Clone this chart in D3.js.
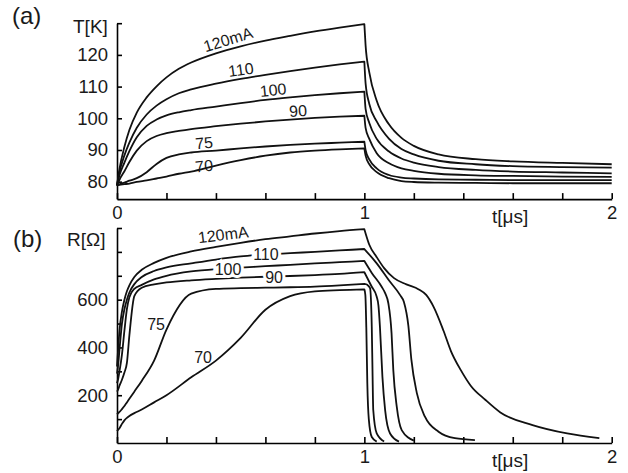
<!DOCTYPE html>
<html>
<head>
<meta charset="utf-8">
<script src="https://cdn.jsdelivr.net/npm/d3@7"></script>
<style>
body { margin: 0; background: #fff; }
svg { display: block; font-family: "Liberation Sans", Arial, sans-serif; }
</style>
</head>
<body>
<svg width="628" height="473"></svg>
<script>
// bias currents, top to bottom in both panels
let currents = ["120mA", "110", "100", "90", "75", "70"];

// (a) temperature T[K] during the pulse (0..1 us) and after it (1..2 us)
let tempRiseTimes = [0, 0.01, 0.03, 0.05, 0.08, 0.12, 0.16, 0.2, 0.25, 0.3, 0.4, 0.5, 0.6, 0.7, 0.8, 0.9, 1.0];
let tempRise = [
    [78.8, 84, 91, 96.3, 101.8, 106.6, 110.1, 112.9, 115.6, 117.6, 120.5, 122.7, 124.5, 126, 127.4, 128.6, 129.7],
    [78.8, 83, 88.3, 92.3, 97, 101.2, 104, 106, 107.9, 109.1, 110.9, 112.4, 113.7, 114.9, 116, 117, 117.9],
    [78.8, 82, 86, 89.6, 94, 97.6, 99.6, 100.9, 101.9, 102.6, 103.7, 104.8, 105.8, 106.6, 107.3, 107.9, 108.4],
    [78.8, 80.6, 83.3, 86.2, 89.8, 92.8, 94.4, 95.3, 96, 96.6, 97.5, 98.3, 99, 99.6, 100.1, 100.5, 100.8],
    [78.8, 79.2, 79.7, 80.3, 81.1, 83, 85.6, 87.5, 88.6, 89.2, 89.8, 90.5, 91.1, 91.6, 92, 92.3, 92.6],
    [78.8, 79, 79.2, 79.4, 79.9, 80.4, 81, 81.6, 82.5, 83.2, 85.1, 86.8, 88.2, 89.2, 89.8, 90.2, 90.5],
];
let tempFallTimes = [1, 1.005, 1.02, 1.05, 1.1, 1.15, 1.2, 1.3, 1.45, 1.6, 1.8, 2.0];
let tempFall = [
    [129.7, 123, 114.5, 105.5, 98, 93.8, 91.3, 88.6, 87.1, 86.4, 85.9, 85.5],
    [117.9, 111, 104.5, 99, 93.5, 90.3, 88.6, 86.6, 85.5, 84.9, 84.6, 84.4],
    [108.4, 103, 98.5, 93.5, 89.5, 87.3, 86, 84.6, 83.7, 83.2, 82.9, 82.6],
    [100.8, 97, 93.5, 89, 85.8, 84.2, 83.4, 82.5, 82, 81.8, 81.6, 81.5],
    [92.6, 90, 87, 84.2, 82.1, 81.3, 81, 80.7, 80.6, 80.5, 80.5, 80.5],
    [90.5, 88.2, 85.5, 83, 81.1, 80.2, 79.9, 79.7, 79.6, 79.5, 79.5, 79.5],
];

// (b) resistance R[Ohm]
let resRiseTimes = [0, 0.005, 0.01, 0.02, 0.03, 0.04, 0.05, 0.07, 0.1, 0.15, 0.2, 0.3, 0.4, 0.5, 0.6, 0.7, 0.8, 0.9, 1.0];
let resRise = [
    [320, 400, 470, 550, 600, 635, 660, 695, 725, 754, 775, 802, 821, 838, 853, 865, 877, 887, 895],
    [290, 330, 390, 500, 560, 600, 630, 665, 695, 720, 735, 752, 768, 781, 789, 795, 800, 806, 812],
    [250, 270, 300, 370, 470, 560, 610, 645, 662, 685, 700, 718, 728, 734, 740, 746, 752, 757, 762],
    [215, 225, 240, 265, 295, 335, 450, 615, 650, 664, 672, 681, 687, 692, 696, 699, 703, 708, 715],
    [120, 125, 130, 142, 155, 170, 185, 215, 260, 345, 475, 625, 645, 648, 650, 652, 655, 660, 666],
    [50, 56, 62, 80, 95, 105, 113, 125, 140, 170, 200, 275, 345, 440, 558, 615, 635, 640, 643],
];
let resFallTimes = [
    [1.0, 1.02, 1.05, 1.08, 1.12, 1.17, 1.22, 1.25, 1.28, 1.32, 1.35, 1.39, 1.43, 1.49, 1.55, 1.68, 1.82, 1.95],
    [1.0, 1.05, 1.1, 1.144, 1.16, 1.178, 1.19, 1.212, 1.245, 1.3, 1.366, 1.447],
    [1.0, 1.03, 1.07, 1.085, 1.097, 1.11, 1.117, 1.131, 1.151, 1.2],
    [1.0, 1.03, 1.05, 1.057, 1.063, 1.073, 1.084, 1.104, 1.14],
    [1.0, 1.012, 1.023, 1.03, 1.033, 1.036, 1.05, 1.08],
    [1.0, 1.004, 1.008, 1.012, 1.018, 1.03, 1.05],
];
let resFall = [
    [895, 830, 778, 732, 690, 664, 643, 620, 570, 470, 385, 305, 240, 180, 128, 75, 40, 20],
    [812, 752, 680, 620, 590, 490, 350, 210, 110, 47, 20, 12],
    [762, 712, 654, 625, 585, 459, 306, 152, 54, 10],
    [715, 654, 612, 575, 487, 278, 138, 40, 6],
    [666, 662, 648, 487, 300, 138, 40, 6],
    [643, 620, 480, 250, 100, 25, 6],
];

let timeTicks = [0, 0.2, 0.4, 0.6, 0.8, 1, 1.2, 1.4, 1.6, 1.8, 2];
let timeTickLabels = [0, 1, 2];
let tempTicks = [80, 90, 100, 110, 120, 130];
let tempTickLabels = [80, 90, 100, 110, 120];
let resTicks = [100, 200, 300, 400, 500, 600, 700, 800, 900];
let resTickLabels = [200, 400, 600];

// where the current labels sit, in data units: [t, value, rotation]
let tempLabelAnchors = [[0.449, 124.9, -17], [0.501, 115.4, -8], [0.631, 109.0, -6], [0.732, 102.4, -4], [0.352, 92.3, -5], [0.352, 85.0, -6]];
let resLabelAnchors = [[0.429, 873, -7], [0.602, 789, 0], [0.449, 728, 0], [0.635, 693, 0], [0.158, 498, 0], [0.348, 360, 0]];

let svg = d3.select("svg");

let x = d3.scaleLinear().domain([0, 2]).range([117, 611.7]);
let yTemp = d3.scaleLinear().domain([74.5, 130]).range([199.1, 23.2]);
let yRes = d3.scaleLinear().domain([0, 900]).range([443, 228]);

function curvePath(yScale, riseTimes, riseValues, fallTimes, fallValues) {
    let line = d3.line()
        .x(d => x(d[0]))
        .y(d => yScale(d[1]))
        .curve(d3.curveMonotoneX);
    let rise = line(d3.zip(riseTimes, riseValues));
    let fall = line(d3.zip(fallTimes, fallValues));
    return rise + fall.replace(/^M/, "L");
}

function drawAxes(yScale, yTicks, yLabels) {
    let baseY = yScale.range()[0];
    let gx = svg.append("g")
        .attr("transform", `translate(0,${baseY})`)
        .call(d3.axisBottom(x)
            .tickValues(timeTicks)
            .tickSizeInner(-6)
            .tickSizeOuter(0)
            .tickPadding(7)
            .tickFormat(d => timeTickLabels.includes(d) ? d : ""));
    let gy = svg.append("g")
        .attr("transform", `translate(${x(0)},0)`)
        .call(d3.axisLeft(yScale)
            .tickValues(yTicks)
            .tickSizeInner(-5)
            .tickSizeOuter(0)
            .tickPadding(9)
            .tickFormat(d => yLabels.includes(d) ? d : ""));
    for (let g of [gx, gy]) {
        g.attr("font-size", 18.5).attr("font-family", null);
        g.selectAll("path, line").attr("stroke", "#000").attr("stroke-width", 1.6);
        g.selectAll("text").attr("fill", "#1a1a1a");
    }
}

function drawCurves(yScale, riseTimes, rise, fallTimesOf, fall) {
    svg.append("g")
        .selectAll("path")
        .data(currents)
        .join("path")
        .attr("d", (c, i) => curvePath(yScale, riseTimes, rise[i], fallTimesOf(i), fall[i]))
        .attr("fill", "none")
        .attr("stroke", "#111")
        .attr("stroke-width", 1.8)
        .attr("stroke-linejoin", "round");
}

function drawLabels(yScale, anchors, knockout) {
    svg.append("g")
        .selectAll("text")
        .data(currents)
        .join("text")
        .attr("transform", (c, i) => `translate(${x(anchors[i][0])},${yScale(anchors[i][1])}) rotate(${anchors[i][2]})`)
        .attr("text-anchor", "middle")
        .attr("dy", "0.36em")
        .attr("font-size", 16)
        .attr("fill", "#1a1a1a")
        .attr("stroke", (c, i) => knockout.includes(i) ? "#fff" : "none")
        .attr("stroke-width", 6)
        .attr("paint-order", "stroke")
        .text(c => c);
}

// panel (a)
drawAxes(yTemp, tempTicks, tempTickLabels);
drawCurves(yTemp, tempRiseTimes, tempRise, () => tempFallTimes, tempFall);
drawLabels(yTemp, tempLabelAnchors, []);

// panel (b)
drawAxes(yRes, resTicks, resTickLabels);
drawCurves(yRes, resRiseTimes, resRise, i => resFallTimes[i], resFall);
drawLabels(yRes, resLabelAnchors, [1, 2, 3]);

let titles = [
    ["(a)", 12, 24, 24],
    ["(b)", 13, 247, 24],
    ["T[K]", 73, 33, 19],
    ["R[\u03A9]", 67, 246, 19],
    ["t[\u03BCs]", 492, 223, 19],
    ["t[\u03BCs]", 492, 467, 19],
];
svg.append("g")
    .selectAll("text")
    .data(titles)
    .join("text")
    .attr("x", d => d[1])
    .attr("y", d => d[2])
    .attr("font-size", d => d[3])
    .attr("fill", "#1a1a1a")
    .text(d => d[0]);
</script>
</body>
</html>
